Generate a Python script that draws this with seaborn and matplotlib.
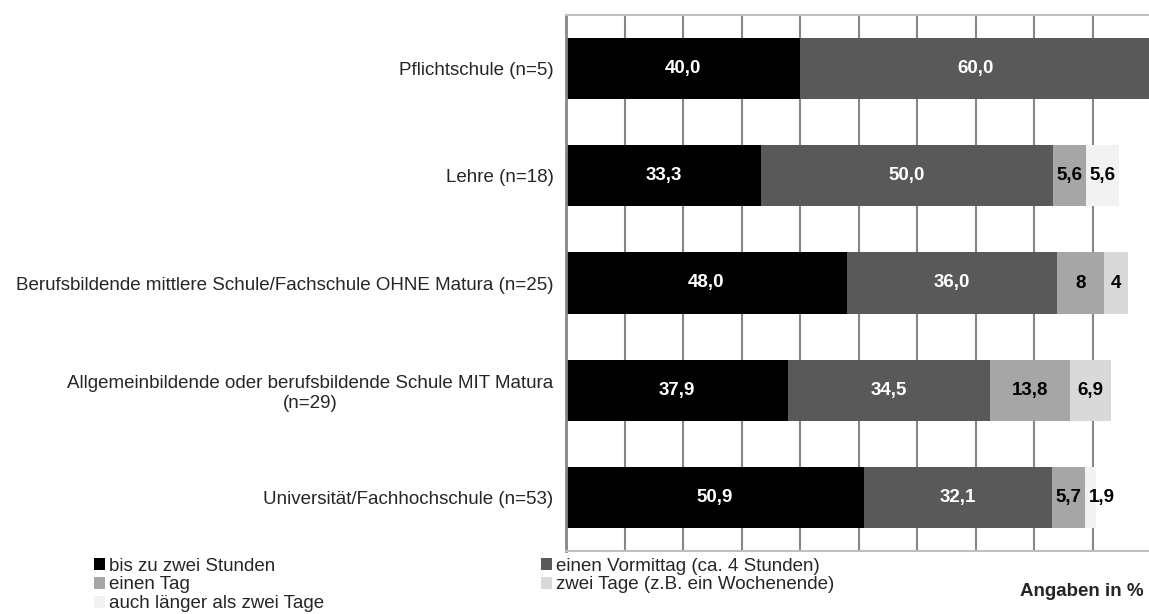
import matplotlib
matplotlib.use("Agg")
import matplotlib.pyplot as plt
from matplotlib.patches import Patch
import seaborn as sns
import pandas as pd
import numpy as np

sns.set_style("white")
plt.rcParams['font.family'] = ['Liberation Sans', 'DejaVu Sans']

# data
categories = ["Pflichtschule (n=5)",
              "Lehre (n=18)",
              "Berufsbildende mittlere Schule/Fachschule OHNE Matura (n=25)",
              "Allgemeinbildende oder berufsbildende Schule MIT Matura\n(n=29)",
              "Universität/Fachhochschule (n=53)"]
series_names = ["bis zu zwei Stunden", "einen Vormittag (ca. 4 Stunden)",
                "einen Tag", "zwei Tage (z.B. ein Wochenende)",
                "auch länger als zwei Tage"]
bis_zwei_stunden = [40.0, 33.3, 48.0, 37.9, 50.9]
vormittag = [60.0, 50.0, 36.0, 34.5, 32.1]
ein_tag = [0.0, 5.6, 8.0, 13.8, 5.7]
zwei_tage = [0.0, 0.0, 4.0, 6.9, 0.0]
laenger = [0.0, 5.6, 0.0, 0.0, 1.9]

labels_bis = ["40,0", "33,3", "48,0", "37,9", "50,9"]
labels_vorm = ["60,0", "50,0", "36,0", "34,5", "32,1"]
labels_tag = ["", "5,6", "8", "13,8", "5,7"]
labels_zwei = ["", "", "4", "6,9", ""]
labels_laenger = ["", "5,6", "", "", "1,9"]

colors = ["#000000", "#595959", "#a6a6a6", "#d9d9d9", "#f2f2f2"]
text_colors = ["white", "white", "black", "black", "black"]

values = [bis_zwei_stunden, vormittag, ein_tag, zwei_tage, laenger]
labels = [labels_bis, labels_vorm, labels_tag, labels_zwei, labels_laenger]

df = pd.DataFrame({"kategorie": categories})
cum = np.cumsum(np.array(values), axis=0)

fig = plt.figure(figsize=(11.49, 6.14), dpi=100)
ax = fig.add_axes([566 / 1149, 63 / 614, 585 / 1149, 536 / 614])

# gridlines behind bars
for gx in range(10, 101, 10):
    ax.axvline(gx, color="#868686", lw=1.5, zorder=0)

# stacked bars: draw cumulative totals from the last series back to the first
for i in range(len(values) - 1, -1, -1):
    df["total"] = cum[i]
    sns.barplot(data=df, x="total", y="kategorie", order=categories,
                color=colors[i], saturation=1, width=0.57, linewidth=0,
                orient="h", ax=ax, zorder=2)

# value labels (very narrow segments get their label pushed to the right)
for i in range(len(values)):
    for j in range(len(categories)):
        if labels[i][j] == "":
            continue
        xc = cum[i][j] - values[i][j] / 2
        if values[i][j] < 3:
            xc += 1.9
        ax.text(xc, j, labels[i][j], ha="center", va="center",
                color=text_colors[i], fontsize=13.5, fontweight="bold", zorder=3)

ax.set_xlim(0, 100)
ax.set_ylim(4.5, -0.5)
ax.set_xlabel("")
ax.set_ylabel("")
ax.set_xticks([])
ax.set_yticks(range(len(categories)))
ax.set_yticklabels(categories, fontsize=13.5, multialignment="center")
ax.set_yticks(np.arange(-0.5, 5, 1), minor=True)
ax.tick_params(axis="y", which="major", length=0, pad=9)
ax.tick_params(axis="y", which="minor", length=6, width=1.5, color="#868686")

for s in ["top", "bottom"]:
    ax.spines[s].set_color("#bfbfbf")
    ax.spines[s].set_linewidth(1.5)
ax.spines["left"].set_color("#868686")
ax.spines["left"].set_linewidth(2)
ax.spines["right"].set_visible(False)

# legend, reordered so it fills row by row
handles = [Patch(facecolor=c, edgecolor="none") for c in colors]
order = [0, 2, 4, 1, 3]
fig.legend([handles[k] for k in order], [series_names[k] for k in order],
           ncol=2, loc="upper left", bbox_to_anchor=(0.0814, 0.092),
           frameon=False, fontsize=13.5, handlelength=0.6, handleheight=0.6,
           handletextpad=0.2, labelspacing=0.1, columnspacing=11.6,
           borderpad=0, borderaxespad=0)

fig.text(0.995, 0.037, "Angaben in %", ha="right", va="center",
         fontsize=13.5, fontweight="bold")

fig.savefig("out.png", dpi=100)
